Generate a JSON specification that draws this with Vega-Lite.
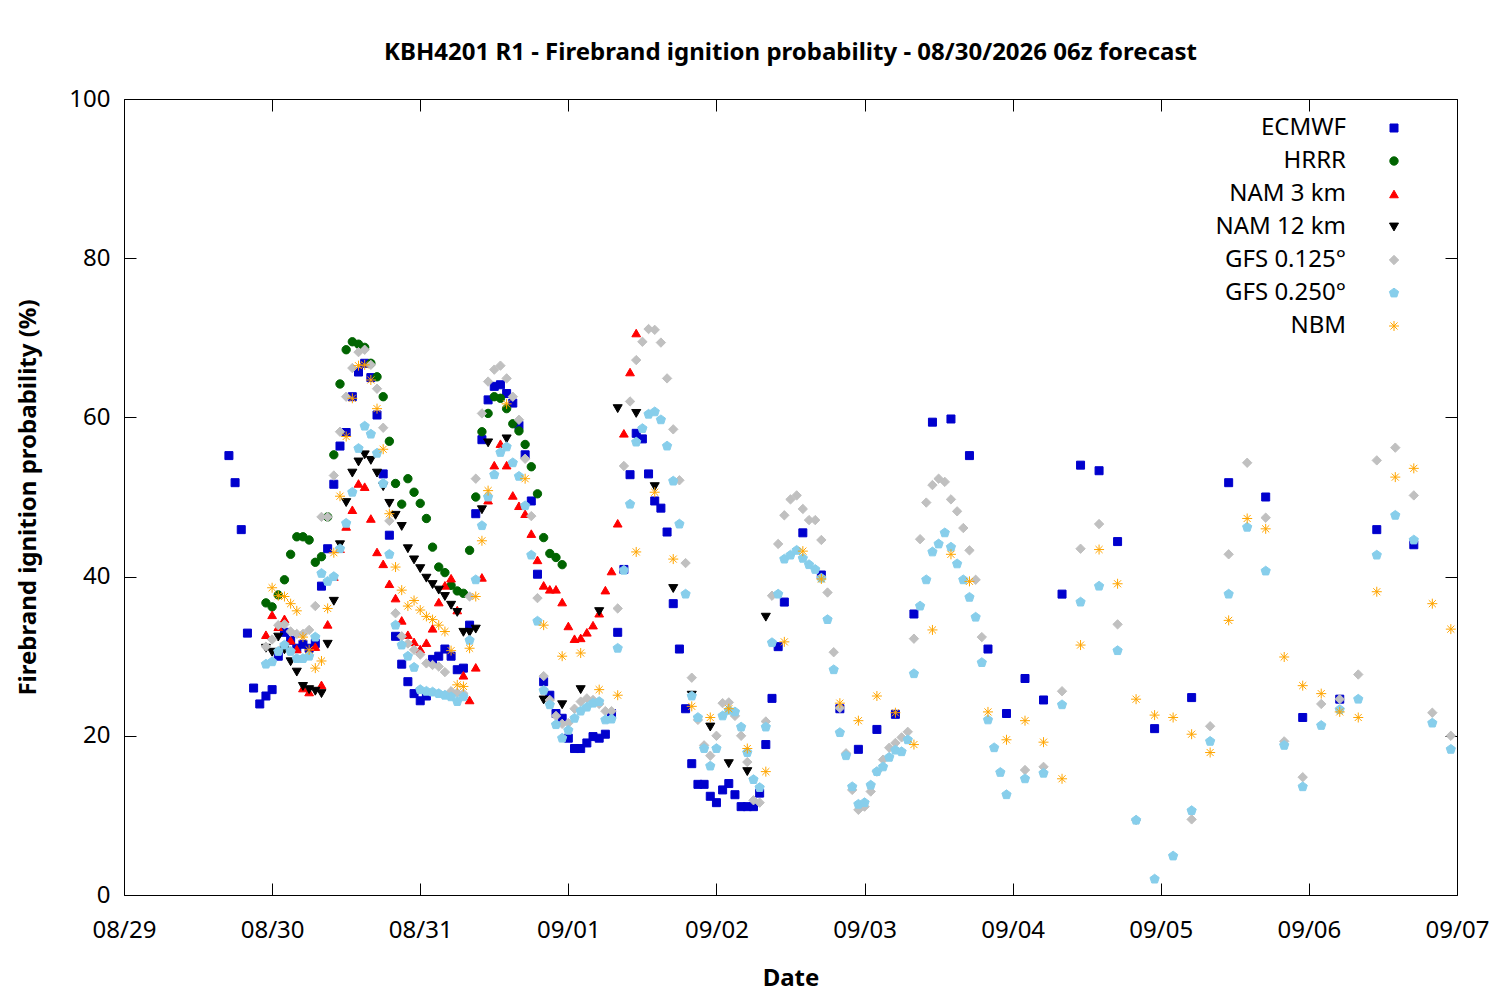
{
"$schema": "https://vega.github.io/schema/vega-lite/v6.json",
"width": 1333, "height": 796,
"autosize": {"type": "none"},
"padding": {"left": 124, "top": 99, "right": 43, "bottom": 105},
"title": {"text": "KBH4201 R1 - Firebrand ignition probability - 08/30/2026 06z forecast", "fontSize": 24, "fontWeight": "bold", "font": "Noto Sans", "anchor": "middle", "baseline": "alphabetic", "offset": 3, "color": "black"},
"data": {"values": [
{"model":"ECMWF","time":"2026-08-29T17:00Z","prob":55.2},
{"model":"ECMWF","time":"2026-08-29T18:00Z","prob":51.8},
{"model":"ECMWF","time":"2026-08-29T19:00Z","prob":45.9},
{"model":"ECMWF","time":"2026-08-29T20:00Z","prob":32.9},
{"model":"ECMWF","time":"2026-08-29T21:00Z","prob":26.0},
{"model":"ECMWF","time":"2026-08-29T22:00Z","prob":24.0},
{"model":"ECMWF","time":"2026-08-29T23:00Z","prob":25.0},
{"model":"ECMWF","time":"2026-08-30T00:00Z","prob":25.8},
{"model":"ECMWF","time":"2026-08-30T01:00Z","prob":30.0},
{"model":"ECMWF","time":"2026-08-30T02:00Z","prob":33.0},
{"model":"ECMWF","time":"2026-08-30T03:00Z","prob":32.0},
{"model":"ECMWF","time":"2026-08-30T04:00Z","prob":31.0},
{"model":"ECMWF","time":"2026-08-30T05:00Z","prob":31.5},
{"model":"ECMWF","time":"2026-08-30T06:00Z","prob":31.0},
{"model":"ECMWF","time":"2026-08-30T07:00Z","prob":31.6},
{"model":"ECMWF","time":"2026-08-30T08:00Z","prob":38.8},
{"model":"ECMWF","time":"2026-08-30T09:00Z","prob":43.5},
{"model":"ECMWF","time":"2026-08-30T10:00Z","prob":51.6},
{"model":"ECMWF","time":"2026-08-30T11:00Z","prob":56.4},
{"model":"ECMWF","time":"2026-08-30T12:00Z","prob":58.1},
{"model":"ECMWF","time":"2026-08-30T13:00Z","prob":62.6},
{"model":"ECMWF","time":"2026-08-30T14:00Z","prob":65.7},
{"model":"ECMWF","time":"2026-08-30T15:00Z","prob":66.8},
{"model":"ECMWF","time":"2026-08-30T16:00Z","prob":65.0},
{"model":"ECMWF","time":"2026-08-30T17:00Z","prob":60.3},
{"model":"ECMWF","time":"2026-08-30T18:00Z","prob":52.9},
{"model":"ECMWF","time":"2026-08-30T19:00Z","prob":45.2},
{"model":"ECMWF","time":"2026-08-30T20:00Z","prob":32.5},
{"model":"ECMWF","time":"2026-08-30T21:00Z","prob":29.0},
{"model":"ECMWF","time":"2026-08-30T22:00Z","prob":26.8},
{"model":"ECMWF","time":"2026-08-30T23:00Z","prob":25.3},
{"model":"ECMWF","time":"2026-08-31T00:00Z","prob":24.4},
{"model":"ECMWF","time":"2026-08-31T01:00Z","prob":25.0},
{"model":"ECMWF","time":"2026-08-31T02:00Z","prob":29.6},
{"model":"ECMWF","time":"2026-08-31T03:00Z","prob":30.0},
{"model":"ECMWF","time":"2026-08-31T04:00Z","prob":30.9},
{"model":"ECMWF","time":"2026-08-31T05:00Z","prob":30.0},
{"model":"ECMWF","time":"2026-08-31T06:00Z","prob":28.3},
{"model":"ECMWF","time":"2026-08-31T07:00Z","prob":28.5},
{"model":"ECMWF","time":"2026-08-31T08:00Z","prob":33.9},
{"model":"ECMWF","time":"2026-08-31T09:00Z","prob":47.9},
{"model":"ECMWF","time":"2026-08-31T10:00Z","prob":57.2},
{"model":"ECMWF","time":"2026-08-31T11:00Z","prob":62.2},
{"model":"ECMWF","time":"2026-08-31T12:00Z","prob":63.9},
{"model":"ECMWF","time":"2026-08-31T13:00Z","prob":64.1},
{"model":"ECMWF","time":"2026-08-31T14:00Z","prob":63.0},
{"model":"ECMWF","time":"2026-08-31T15:00Z","prob":61.8},
{"model":"ECMWF","time":"2026-08-31T16:00Z","prob":59.0},
{"model":"ECMWF","time":"2026-08-31T17:00Z","prob":55.3},
{"model":"ECMWF","time":"2026-08-31T18:00Z","prob":49.5},
{"model":"ECMWF","time":"2026-08-31T19:00Z","prob":40.3},
{"model":"ECMWF","time":"2026-08-31T20:00Z","prob":26.8},
{"model":"ECMWF","time":"2026-08-31T21:00Z","prob":25.1},
{"model":"ECMWF","time":"2026-08-31T22:00Z","prob":22.8},
{"model":"ECMWF","time":"2026-08-31T23:00Z","prob":22.2},
{"model":"ECMWF","time":"2026-09-01T00:00Z","prob":19.7},
{"model":"ECMWF","time":"2026-09-01T01:00Z","prob":18.4},
{"model":"ECMWF","time":"2026-09-01T02:00Z","prob":18.4},
{"model":"ECMWF","time":"2026-09-01T03:00Z","prob":19.1},
{"model":"ECMWF","time":"2026-09-01T04:00Z","prob":19.9},
{"model":"ECMWF","time":"2026-09-01T05:00Z","prob":19.7},
{"model":"ECMWF","time":"2026-09-01T06:00Z","prob":20.2},
{"model":"ECMWF","time":"2026-09-01T07:00Z","prob":22.8},
{"model":"ECMWF","time":"2026-09-01T08:00Z","prob":33.0},
{"model":"ECMWF","time":"2026-09-01T09:00Z","prob":40.9},
{"model":"ECMWF","time":"2026-09-01T10:00Z","prob":52.8},
{"model":"ECMWF","time":"2026-09-01T11:00Z","prob":58.0},
{"model":"ECMWF","time":"2026-09-01T12:00Z","prob":57.3},
{"model":"ECMWF","time":"2026-09-01T13:00Z","prob":52.9},
{"model":"ECMWF","time":"2026-09-01T14:00Z","prob":49.5},
{"model":"ECMWF","time":"2026-09-01T15:00Z","prob":48.6},
{"model":"ECMWF","time":"2026-09-01T16:00Z","prob":45.6},
{"model":"ECMWF","time":"2026-09-01T17:00Z","prob":36.6},
{"model":"ECMWF","time":"2026-09-01T18:00Z","prob":30.9},
{"model":"ECMWF","time":"2026-09-01T19:00Z","prob":23.4},
{"model":"ECMWF","time":"2026-09-01T20:00Z","prob":16.5},
{"model":"ECMWF","time":"2026-09-01T21:00Z","prob":13.9},
{"model":"ECMWF","time":"2026-09-01T22:00Z","prob":13.9},
{"model":"ECMWF","time":"2026-09-01T23:00Z","prob":12.4},
{"model":"ECMWF","time":"2026-09-02T00:00Z","prob":11.6},
{"model":"ECMWF","time":"2026-09-02T01:00Z","prob":13.2},
{"model":"ECMWF","time":"2026-09-02T02:00Z","prob":14.0},
{"model":"ECMWF","time":"2026-09-02T03:00Z","prob":12.6},
{"model":"ECMWF","time":"2026-09-02T04:00Z","prob":11.1},
{"model":"ECMWF","time":"2026-09-02T05:00Z","prob":11.1},
{"model":"ECMWF","time":"2026-09-02T06:00Z","prob":11.1},
{"model":"ECMWF","time":"2026-09-02T07:00Z","prob":12.8},
{"model":"ECMWF","time":"2026-09-02T08:00Z","prob":18.9},
{"model":"ECMWF","time":"2026-09-02T09:00Z","prob":24.7},
{"model":"ECMWF","time":"2026-09-02T10:00Z","prob":31.2},
{"model":"ECMWF","time":"2026-09-02T11:00Z","prob":36.8},
{"model":"ECMWF","time":"2026-09-02T14:00Z","prob":45.5},
{"model":"ECMWF","time":"2026-09-02T17:00Z","prob":40.2},
{"model":"ECMWF","time":"2026-09-02T20:00Z","prob":23.4},
{"model":"ECMWF","time":"2026-09-02T23:00Z","prob":18.3},
{"model":"ECMWF","time":"2026-09-03T02:00Z","prob":20.8},
{"model":"ECMWF","time":"2026-09-03T05:00Z","prob":22.7},
{"model":"ECMWF","time":"2026-09-03T08:00Z","prob":35.3},
{"model":"ECMWF","time":"2026-09-03T11:00Z","prob":59.4},
{"model":"ECMWF","time":"2026-09-03T14:00Z","prob":59.8},
{"model":"ECMWF","time":"2026-09-03T17:00Z","prob":55.2},
{"model":"ECMWF","time":"2026-09-03T20:00Z","prob":30.9},
{"model":"ECMWF","time":"2026-09-03T23:00Z","prob":22.8},
{"model":"ECMWF","time":"2026-09-04T02:00Z","prob":27.2},
{"model":"ECMWF","time":"2026-09-04T05:00Z","prob":24.5},
{"model":"ECMWF","time":"2026-09-04T08:00Z","prob":37.8},
{"model":"ECMWF","time":"2026-09-04T11:00Z","prob":54.0},
{"model":"ECMWF","time":"2026-09-04T14:00Z","prob":53.3},
{"model":"ECMWF","time":"2026-09-04T17:00Z","prob":44.4},
{"model":"ECMWF","time":"2026-09-04T23:00Z","prob":20.9},
{"model":"ECMWF","time":"2026-09-05T05:00Z","prob":24.8},
{"model":"ECMWF","time":"2026-09-05T11:00Z","prob":51.8},
{"model":"ECMWF","time":"2026-09-05T17:00Z","prob":50.0},
{"model":"ECMWF","time":"2026-09-05T23:00Z","prob":22.3},
{"model":"ECMWF","time":"2026-09-06T05:00Z","prob":24.6},
{"model":"ECMWF","time":"2026-09-06T11:00Z","prob":45.9},
{"model":"ECMWF","time":"2026-09-06T17:00Z","prob":44.0},
{"model":"HRRR","time":"2026-08-29T23:00Z","prob":36.7},
{"model":"HRRR","time":"2026-08-30T00:00Z","prob":36.2},
{"model":"HRRR","time":"2026-08-30T01:00Z","prob":37.7},
{"model":"HRRR","time":"2026-08-30T02:00Z","prob":39.6},
{"model":"HRRR","time":"2026-08-30T03:00Z","prob":42.8},
{"model":"HRRR","time":"2026-08-30T04:00Z","prob":45.0},
{"model":"HRRR","time":"2026-08-30T05:00Z","prob":45.0},
{"model":"HRRR","time":"2026-08-30T06:00Z","prob":44.6},
{"model":"HRRR","time":"2026-08-30T07:00Z","prob":41.8},
{"model":"HRRR","time":"2026-08-30T08:00Z","prob":42.5},
{"model":"HRRR","time":"2026-08-30T09:00Z","prob":47.5},
{"model":"HRRR","time":"2026-08-30T10:00Z","prob":55.3},
{"model":"HRRR","time":"2026-08-30T11:00Z","prob":64.2},
{"model":"HRRR","time":"2026-08-30T12:00Z","prob":68.5},
{"model":"HRRR","time":"2026-08-30T13:00Z","prob":69.5},
{"model":"HRRR","time":"2026-08-30T14:00Z","prob":69.2},
{"model":"HRRR","time":"2026-08-30T15:00Z","prob":68.8},
{"model":"HRRR","time":"2026-08-30T16:00Z","prob":66.8},
{"model":"HRRR","time":"2026-08-30T17:00Z","prob":65.1},
{"model":"HRRR","time":"2026-08-30T18:00Z","prob":62.6},
{"model":"HRRR","time":"2026-08-30T19:00Z","prob":57.0},
{"model":"HRRR","time":"2026-08-30T20:00Z","prob":51.7},
{"model":"HRRR","time":"2026-08-30T21:00Z","prob":49.1},
{"model":"HRRR","time":"2026-08-30T22:00Z","prob":52.3},
{"model":"HRRR","time":"2026-08-30T23:00Z","prob":50.6},
{"model":"HRRR","time":"2026-08-31T00:00Z","prob":49.2},
{"model":"HRRR","time":"2026-08-31T01:00Z","prob":47.3},
{"model":"HRRR","time":"2026-08-31T02:00Z","prob":43.7},
{"model":"HRRR","time":"2026-08-31T03:00Z","prob":41.2},
{"model":"HRRR","time":"2026-08-31T04:00Z","prob":40.5},
{"model":"HRRR","time":"2026-08-31T05:00Z","prob":38.9},
{"model":"HRRR","time":"2026-08-31T06:00Z","prob":38.2},
{"model":"HRRR","time":"2026-08-31T07:00Z","prob":37.9},
{"model":"HRRR","time":"2026-08-31T08:00Z","prob":43.3},
{"model":"HRRR","time":"2026-08-31T09:00Z","prob":50.0},
{"model":"HRRR","time":"2026-08-31T10:00Z","prob":58.2},
{"model":"HRRR","time":"2026-08-31T11:00Z","prob":60.5},
{"model":"HRRR","time":"2026-08-31T12:00Z","prob":62.6},
{"model":"HRRR","time":"2026-08-31T13:00Z","prob":62.4},
{"model":"HRRR","time":"2026-08-31T14:00Z","prob":61.1},
{"model":"HRRR","time":"2026-08-31T15:00Z","prob":59.2},
{"model":"HRRR","time":"2026-08-31T16:00Z","prob":58.3},
{"model":"HRRR","time":"2026-08-31T17:00Z","prob":56.6},
{"model":"HRRR","time":"2026-08-31T18:00Z","prob":53.8},
{"model":"HRRR","time":"2026-08-31T19:00Z","prob":50.4},
{"model":"HRRR","time":"2026-08-31T20:00Z","prob":44.9},
{"model":"HRRR","time":"2026-08-31T21:00Z","prob":42.9},
{"model":"HRRR","time":"2026-08-31T22:00Z","prob":42.4},
{"model":"HRRR","time":"2026-08-31T23:00Z","prob":41.5},
{"model":"NAM 3 km","time":"2026-08-29T23:00Z","prob":32.7},
{"model":"NAM 3 km","time":"2026-08-30T00:00Z","prob":35.2},
{"model":"NAM 3 km","time":"2026-08-30T01:00Z","prob":33.7},
{"model":"NAM 3 km","time":"2026-08-30T02:00Z","prob":34.7},
{"model":"NAM 3 km","time":"2026-08-30T03:00Z","prob":32.0},
{"model":"NAM 3 km","time":"2026-08-30T04:00Z","prob":30.9},
{"model":"NAM 3 km","time":"2026-08-30T05:00Z","prob":26.0},
{"model":"NAM 3 km","time":"2026-08-30T06:00Z","prob":25.5},
{"model":"NAM 3 km","time":"2026-08-30T07:00Z","prob":31.2},
{"model":"NAM 3 km","time":"2026-08-30T08:00Z","prob":26.4},
{"model":"NAM 3 km","time":"2026-08-30T09:00Z","prob":34.0},
{"model":"NAM 3 km","time":"2026-08-30T10:00Z","prob":40.0},
{"model":"NAM 3 km","time":"2026-08-30T11:00Z","prob":43.5},
{"model":"NAM 3 km","time":"2026-08-30T12:00Z","prob":46.3},
{"model":"NAM 3 km","time":"2026-08-30T13:00Z","prob":48.4},
{"model":"NAM 3 km","time":"2026-08-30T14:00Z","prob":51.7},
{"model":"NAM 3 km","time":"2026-08-30T15:00Z","prob":51.3},
{"model":"NAM 3 km","time":"2026-08-30T16:00Z","prob":47.3},
{"model":"NAM 3 km","time":"2026-08-30T17:00Z","prob":43.1},
{"model":"NAM 3 km","time":"2026-08-30T18:00Z","prob":41.6},
{"model":"NAM 3 km","time":"2026-08-30T19:00Z","prob":39.1},
{"model":"NAM 3 km","time":"2026-08-30T20:00Z","prob":37.3},
{"model":"NAM 3 km","time":"2026-08-30T21:00Z","prob":34.5},
{"model":"NAM 3 km","time":"2026-08-30T22:00Z","prob":32.7},
{"model":"NAM 3 km","time":"2026-08-30T23:00Z","prob":31.8},
{"model":"NAM 3 km","time":"2026-08-31T00:00Z","prob":30.9},
{"model":"NAM 3 km","time":"2026-08-31T01:00Z","prob":31.7},
{"model":"NAM 3 km","time":"2026-08-31T02:00Z","prob":33.5},
{"model":"NAM 3 km","time":"2026-08-31T03:00Z","prob":36.8},
{"model":"NAM 3 km","time":"2026-08-31T04:00Z","prob":38.9},
{"model":"NAM 3 km","time":"2026-08-31T05:00Z","prob":39.8},
{"model":"NAM 3 km","time":"2026-08-31T06:00Z","prob":35.8},
{"model":"NAM 3 km","time":"2026-08-31T07:00Z","prob":27.6},
{"model":"NAM 3 km","time":"2026-08-31T08:00Z","prob":24.5},
{"model":"NAM 3 km","time":"2026-08-31T09:00Z","prob":28.6},
{"model":"NAM 3 km","time":"2026-08-31T10:00Z","prob":39.9},
{"model":"NAM 3 km","time":"2026-08-31T11:00Z","prob":49.6},
{"model":"NAM 3 km","time":"2026-08-31T12:00Z","prob":54.0},
{"model":"NAM 3 km","time":"2026-08-31T13:00Z","prob":56.7},
{"model":"NAM 3 km","time":"2026-08-31T14:00Z","prob":54.0},
{"model":"NAM 3 km","time":"2026-08-31T15:00Z","prob":50.2},
{"model":"NAM 3 km","time":"2026-08-31T16:00Z","prob":48.9},
{"model":"NAM 3 km","time":"2026-08-31T17:00Z","prob":47.9},
{"model":"NAM 3 km","time":"2026-08-31T18:00Z","prob":45.4},
{"model":"NAM 3 km","time":"2026-08-31T19:00Z","prob":42.1},
{"model":"NAM 3 km","time":"2026-08-31T20:00Z","prob":38.9},
{"model":"NAM 3 km","time":"2026-08-31T21:00Z","prob":38.4},
{"model":"NAM 3 km","time":"2026-08-31T22:00Z","prob":38.4},
{"model":"NAM 3 km","time":"2026-08-31T23:00Z","prob":36.8},
{"model":"NAM 3 km","time":"2026-09-01T00:00Z","prob":33.8},
{"model":"NAM 3 km","time":"2026-09-01T01:00Z","prob":32.2},
{"model":"NAM 3 km","time":"2026-09-01T02:00Z","prob":32.3},
{"model":"NAM 3 km","time":"2026-09-01T03:00Z","prob":33.0},
{"model":"NAM 3 km","time":"2026-09-01T04:00Z","prob":33.9},
{"model":"NAM 3 km","time":"2026-09-01T05:00Z","prob":35.4},
{"model":"NAM 3 km","time":"2026-09-01T06:00Z","prob":38.3},
{"model":"NAM 3 km","time":"2026-09-01T07:00Z","prob":40.7},
{"model":"NAM 3 km","time":"2026-09-01T08:00Z","prob":46.7},
{"model":"NAM 3 km","time":"2026-09-01T09:00Z","prob":58.0},
{"model":"NAM 3 km","time":"2026-09-01T10:00Z","prob":65.7},
{"model":"NAM 3 km","time":"2026-09-01T11:00Z","prob":70.6},
{"model":"NAM 12 km","time":"2026-08-29T23:00Z","prob":31.0},
{"model":"NAM 12 km","time":"2026-08-30T00:00Z","prob":30.5},
{"model":"NAM 12 km","time":"2026-08-30T01:00Z","prob":32.4},
{"model":"NAM 12 km","time":"2026-08-30T02:00Z","prob":30.8},
{"model":"NAM 12 km","time":"2026-08-30T03:00Z","prob":29.3},
{"model":"NAM 12 km","time":"2026-08-30T04:00Z","prob":28.0},
{"model":"NAM 12 km","time":"2026-08-30T05:00Z","prob":26.2},
{"model":"NAM 12 km","time":"2026-08-30T06:00Z","prob":25.8},
{"model":"NAM 12 km","time":"2026-08-30T07:00Z","prob":25.6},
{"model":"NAM 12 km","time":"2026-08-30T08:00Z","prob":25.3},
{"model":"NAM 12 km","time":"2026-08-30T09:00Z","prob":31.5},
{"model":"NAM 12 km","time":"2026-08-30T10:00Z","prob":36.9},
{"model":"NAM 12 km","time":"2026-08-30T11:00Z","prob":44.0},
{"model":"NAM 12 km","time":"2026-08-30T12:00Z","prob":49.3},
{"model":"NAM 12 km","time":"2026-08-30T13:00Z","prob":53.0},
{"model":"NAM 12 km","time":"2026-08-30T14:00Z","prob":54.4},
{"model":"NAM 12 km","time":"2026-08-30T15:00Z","prob":55.3},
{"model":"NAM 12 km","time":"2026-08-30T16:00Z","prob":54.6},
{"model":"NAM 12 km","time":"2026-08-30T17:00Z","prob":53.0},
{"model":"NAM 12 km","time":"2026-08-30T18:00Z","prob":51.3},
{"model":"NAM 12 km","time":"2026-08-30T19:00Z","prob":49.2},
{"model":"NAM 12 km","time":"2026-08-30T20:00Z","prob":47.7},
{"model":"NAM 12 km","time":"2026-08-30T21:00Z","prob":46.3},
{"model":"NAM 12 km","time":"2026-08-30T22:00Z","prob":43.5},
{"model":"NAM 12 km","time":"2026-08-30T23:00Z","prob":42.1},
{"model":"NAM 12 km","time":"2026-08-31T00:00Z","prob":41.0},
{"model":"NAM 12 km","time":"2026-08-31T01:00Z","prob":39.8},
{"model":"NAM 12 km","time":"2026-08-31T02:00Z","prob":39.0},
{"model":"NAM 12 km","time":"2026-08-31T03:00Z","prob":38.3},
{"model":"NAM 12 km","time":"2026-08-31T04:00Z","prob":37.5},
{"model":"NAM 12 km","time":"2026-08-31T05:00Z","prob":36.4},
{"model":"NAM 12 km","time":"2026-08-31T06:00Z","prob":35.5},
{"model":"NAM 12 km","time":"2026-08-31T07:00Z","prob":33.0},
{"model":"NAM 12 km","time":"2026-08-31T08:00Z","prob":33.0},
{"model":"NAM 12 km","time":"2026-08-31T09:00Z","prob":33.4},
{"model":"NAM 12 km","time":"2026-08-31T10:00Z","prob":48.4},
{"model":"NAM 12 km","time":"2026-08-31T11:00Z","prob":56.8},
{"model":"NAM 12 km","time":"2026-08-31T14:00Z","prob":57.3},
{"model":"NAM 12 km","time":"2026-08-31T20:00Z","prob":24.5},
{"model":"NAM 12 km","time":"2026-08-31T23:00Z","prob":23.9},
{"model":"NAM 12 km","time":"2026-09-01T02:00Z","prob":25.8},
{"model":"NAM 12 km","time":"2026-09-01T05:00Z","prob":35.6},
{"model":"NAM 12 km","time":"2026-09-01T08:00Z","prob":61.1},
{"model":"NAM 12 km","time":"2026-09-01T11:00Z","prob":60.5},
{"model":"NAM 12 km","time":"2026-09-01T14:00Z","prob":51.3},
{"model":"NAM 12 km","time":"2026-09-01T17:00Z","prob":38.5},
{"model":"NAM 12 km","time":"2026-09-01T20:00Z","prob":25.1},
{"model":"NAM 12 km","time":"2026-09-01T23:00Z","prob":21.1},
{"model":"NAM 12 km","time":"2026-09-02T02:00Z","prob":16.5},
{"model":"NAM 12 km","time":"2026-09-02T05:00Z","prob":15.5},
{"model":"NAM 12 km","time":"2026-09-02T08:00Z","prob":34.9},
{"model":"GFS 0.125°","time":"2026-08-29T23:00Z","prob":31.2},
{"model":"GFS 0.125°","time":"2026-08-30T00:00Z","prob":32.1},
{"model":"GFS 0.125°","time":"2026-08-30T01:00Z","prob":33.9},
{"model":"GFS 0.125°","time":"2026-08-30T02:00Z","prob":34.0},
{"model":"GFS 0.125°","time":"2026-08-30T03:00Z","prob":33.1},
{"model":"GFS 0.125°","time":"2026-08-30T04:00Z","prob":32.8},
{"model":"GFS 0.125°","time":"2026-08-30T05:00Z","prob":32.8},
{"model":"GFS 0.125°","time":"2026-08-30T06:00Z","prob":33.3},
{"model":"GFS 0.125°","time":"2026-08-30T07:00Z","prob":36.3},
{"model":"GFS 0.125°","time":"2026-08-30T08:00Z","prob":47.5},
{"model":"GFS 0.125°","time":"2026-08-30T09:00Z","prob":47.5},
{"model":"GFS 0.125°","time":"2026-08-30T10:00Z","prob":52.7},
{"model":"GFS 0.125°","time":"2026-08-30T11:00Z","prob":58.2},
{"model":"GFS 0.125°","time":"2026-08-30T12:00Z","prob":62.6},
{"model":"GFS 0.125°","time":"2026-08-30T13:00Z","prob":66.2},
{"model":"GFS 0.125°","time":"2026-08-30T14:00Z","prob":68.2},
{"model":"GFS 0.125°","time":"2026-08-30T15:00Z","prob":68.5},
{"model":"GFS 0.125°","time":"2026-08-30T16:00Z","prob":66.6},
{"model":"GFS 0.125°","time":"2026-08-30T17:00Z","prob":63.6},
{"model":"GFS 0.125°","time":"2026-08-30T18:00Z","prob":58.7},
{"model":"GFS 0.125°","time":"2026-08-30T19:00Z","prob":47.0},
{"model":"GFS 0.125°","time":"2026-08-30T20:00Z","prob":35.4},
{"model":"GFS 0.125°","time":"2026-08-30T21:00Z","prob":32.5},
{"model":"GFS 0.125°","time":"2026-08-30T22:00Z","prob":31.6},
{"model":"GFS 0.125°","time":"2026-08-30T23:00Z","prob":30.8},
{"model":"GFS 0.125°","time":"2026-08-31T00:00Z","prob":30.2},
{"model":"GFS 0.125°","time":"2026-08-31T01:00Z","prob":29.1},
{"model":"GFS 0.125°","time":"2026-08-31T02:00Z","prob":28.9},
{"model":"GFS 0.125°","time":"2026-08-31T03:00Z","prob":28.7},
{"model":"GFS 0.125°","time":"2026-08-31T04:00Z","prob":28.0},
{"model":"GFS 0.125°","time":"2026-08-31T05:00Z","prob":25.6},
{"model":"GFS 0.125°","time":"2026-08-31T06:00Z","prob":25.4},
{"model":"GFS 0.125°","time":"2026-08-31T07:00Z","prob":25.3},
{"model":"GFS 0.125°","time":"2026-08-31T08:00Z","prob":37.5},
{"model":"GFS 0.125°","time":"2026-08-31T09:00Z","prob":52.3},
{"model":"GFS 0.125°","time":"2026-08-31T10:00Z","prob":60.5},
{"model":"GFS 0.125°","time":"2026-08-31T11:00Z","prob":64.5},
{"model":"GFS 0.125°","time":"2026-08-31T12:00Z","prob":66.0},
{"model":"GFS 0.125°","time":"2026-08-31T13:00Z","prob":66.5},
{"model":"GFS 0.125°","time":"2026-08-31T14:00Z","prob":64.9},
{"model":"GFS 0.125°","time":"2026-08-31T15:00Z","prob":62.6},
{"model":"GFS 0.125°","time":"2026-08-31T16:00Z","prob":59.7},
{"model":"GFS 0.125°","time":"2026-08-31T17:00Z","prob":54.8},
{"model":"GFS 0.125°","time":"2026-08-31T18:00Z","prob":47.6},
{"model":"GFS 0.125°","time":"2026-08-31T19:00Z","prob":37.3},
{"model":"GFS 0.125°","time":"2026-08-31T20:00Z","prob":27.5},
{"model":"GFS 0.125°","time":"2026-08-31T21:00Z","prob":24.5},
{"model":"GFS 0.125°","time":"2026-08-31T22:00Z","prob":22.5},
{"model":"GFS 0.125°","time":"2026-08-31T23:00Z","prob":21.5},
{"model":"GFS 0.125°","time":"2026-09-01T00:00Z","prob":21.6},
{"model":"GFS 0.125°","time":"2026-09-01T01:00Z","prob":23.4},
{"model":"GFS 0.125°","time":"2026-09-01T02:00Z","prob":24.3},
{"model":"GFS 0.125°","time":"2026-09-01T03:00Z","prob":24.7},
{"model":"GFS 0.125°","time":"2026-09-01T04:00Z","prob":24.5},
{"model":"GFS 0.125°","time":"2026-09-01T05:00Z","prob":24.0},
{"model":"GFS 0.125°","time":"2026-09-01T06:00Z","prob":23.1},
{"model":"GFS 0.125°","time":"2026-09-01T07:00Z","prob":23.1},
{"model":"GFS 0.125°","time":"2026-09-01T08:00Z","prob":36.0},
{"model":"GFS 0.125°","time":"2026-09-01T09:00Z","prob":53.9},
{"model":"GFS 0.125°","time":"2026-09-01T10:00Z","prob":62.0},
{"model":"GFS 0.125°","time":"2026-09-01T11:00Z","prob":67.2},
{"model":"GFS 0.125°","time":"2026-09-01T12:00Z","prob":69.5},
{"model":"GFS 0.125°","time":"2026-09-01T13:00Z","prob":71.1},
{"model":"GFS 0.125°","time":"2026-09-01T14:00Z","prob":71.0},
{"model":"GFS 0.125°","time":"2026-09-01T15:00Z","prob":69.4},
{"model":"GFS 0.125°","time":"2026-09-01T16:00Z","prob":64.9},
{"model":"GFS 0.125°","time":"2026-09-01T17:00Z","prob":58.5},
{"model":"GFS 0.125°","time":"2026-09-01T18:00Z","prob":52.1},
{"model":"GFS 0.125°","time":"2026-09-01T19:00Z","prob":41.7},
{"model":"GFS 0.125°","time":"2026-09-01T20:00Z","prob":27.3},
{"model":"GFS 0.125°","time":"2026-09-01T21:00Z","prob":22.0},
{"model":"GFS 0.125°","time":"2026-09-01T22:00Z","prob":18.8},
{"model":"GFS 0.125°","time":"2026-09-01T23:00Z","prob":17.5},
{"model":"GFS 0.125°","time":"2026-09-02T00:00Z","prob":20.0},
{"model":"GFS 0.125°","time":"2026-09-02T01:00Z","prob":24.1},
{"model":"GFS 0.125°","time":"2026-09-02T02:00Z","prob":24.2},
{"model":"GFS 0.125°","time":"2026-09-02T03:00Z","prob":22.5},
{"model":"GFS 0.125°","time":"2026-09-02T04:00Z","prob":20.0},
{"model":"GFS 0.125°","time":"2026-09-02T05:00Z","prob":16.7},
{"model":"GFS 0.125°","time":"2026-09-02T06:00Z","prob":11.9},
{"model":"GFS 0.125°","time":"2026-09-02T07:00Z","prob":11.6},
{"model":"GFS 0.125°","time":"2026-09-02T08:00Z","prob":21.8},
{"model":"GFS 0.125°","time":"2026-09-02T09:00Z","prob":37.6},
{"model":"GFS 0.125°","time":"2026-09-02T10:00Z","prob":44.1},
{"model":"GFS 0.125°","time":"2026-09-02T11:00Z","prob":47.7},
{"model":"GFS 0.125°","time":"2026-09-02T12:00Z","prob":49.7},
{"model":"GFS 0.125°","time":"2026-09-02T13:00Z","prob":50.2},
{"model":"GFS 0.125°","time":"2026-09-02T14:00Z","prob":48.5},
{"model":"GFS 0.125°","time":"2026-09-02T15:00Z","prob":47.1},
{"model":"GFS 0.125°","time":"2026-09-02T16:00Z","prob":47.1},
{"model":"GFS 0.125°","time":"2026-09-02T17:00Z","prob":44.6},
{"model":"GFS 0.125°","time":"2026-09-02T18:00Z","prob":38.0},
{"model":"GFS 0.125°","time":"2026-09-02T19:00Z","prob":30.5},
{"model":"GFS 0.125°","time":"2026-09-02T20:00Z","prob":23.5},
{"model":"GFS 0.125°","time":"2026-09-02T21:00Z","prob":17.8},
{"model":"GFS 0.125°","time":"2026-09-02T22:00Z","prob":13.2},
{"model":"GFS 0.125°","time":"2026-09-02T23:00Z","prob":10.7},
{"model":"GFS 0.125°","time":"2026-09-03T00:00Z","prob":11.1},
{"model":"GFS 0.125°","time":"2026-09-03T01:00Z","prob":13.0},
{"model":"GFS 0.125°","time":"2026-09-03T02:00Z","prob":15.5},
{"model":"GFS 0.125°","time":"2026-09-03T03:00Z","prob":17.0},
{"model":"GFS 0.125°","time":"2026-09-03T04:00Z","prob":18.5},
{"model":"GFS 0.125°","time":"2026-09-03T05:00Z","prob":19.1},
{"model":"GFS 0.125°","time":"2026-09-03T06:00Z","prob":19.8},
{"model":"GFS 0.125°","time":"2026-09-03T07:00Z","prob":20.5},
{"model":"GFS 0.125°","time":"2026-09-03T08:00Z","prob":32.2},
{"model":"GFS 0.125°","time":"2026-09-03T09:00Z","prob":44.7},
{"model":"GFS 0.125°","time":"2026-09-03T10:00Z","prob":49.3},
{"model":"GFS 0.125°","time":"2026-09-03T11:00Z","prob":51.5},
{"model":"GFS 0.125°","time":"2026-09-03T12:00Z","prob":52.3},
{"model":"GFS 0.125°","time":"2026-09-03T13:00Z","prob":51.9},
{"model":"GFS 0.125°","time":"2026-09-03T14:00Z","prob":49.7},
{"model":"GFS 0.125°","time":"2026-09-03T15:00Z","prob":48.2},
{"model":"GFS 0.125°","time":"2026-09-03T16:00Z","prob":46.1},
{"model":"GFS 0.125°","time":"2026-09-03T17:00Z","prob":43.3},
{"model":"GFS 0.125°","time":"2026-09-03T18:00Z","prob":39.6},
{"model":"GFS 0.125°","time":"2026-09-03T19:00Z","prob":32.4},
{"model":"GFS 0.125°","time":"2026-09-04T02:00Z","prob":15.7},
{"model":"GFS 0.125°","time":"2026-09-04T05:00Z","prob":16.1},
{"model":"GFS 0.125°","time":"2026-09-04T08:00Z","prob":25.6},
{"model":"GFS 0.125°","time":"2026-09-04T11:00Z","prob":43.5},
{"model":"GFS 0.125°","time":"2026-09-04T14:00Z","prob":46.6},
{"model":"GFS 0.125°","time":"2026-09-04T17:00Z","prob":34.0},
{"model":"GFS 0.125°","time":"2026-09-04T20:00Z","prob":9.4},
{"model":"GFS 0.125°","time":"2026-09-05T05:00Z","prob":9.5},
{"model":"GFS 0.125°","time":"2026-09-05T08:00Z","prob":21.2},
{"model":"GFS 0.125°","time":"2026-09-05T11:00Z","prob":42.8},
{"model":"GFS 0.125°","time":"2026-09-05T14:00Z","prob":54.3},
{"model":"GFS 0.125°","time":"2026-09-05T17:00Z","prob":47.4},
{"model":"GFS 0.125°","time":"2026-09-05T20:00Z","prob":19.3},
{"model":"GFS 0.125°","time":"2026-09-05T23:00Z","prob":14.8},
{"model":"GFS 0.125°","time":"2026-09-06T02:00Z","prob":24.0},
{"model":"GFS 0.125°","time":"2026-09-06T05:00Z","prob":24.6},
{"model":"GFS 0.125°","time":"2026-09-06T08:00Z","prob":27.7},
{"model":"GFS 0.125°","time":"2026-09-06T11:00Z","prob":54.6},
{"model":"GFS 0.125°","time":"2026-09-06T14:00Z","prob":56.2},
{"model":"GFS 0.125°","time":"2026-09-06T17:00Z","prob":50.2},
{"model":"GFS 0.125°","time":"2026-09-06T20:00Z","prob":22.9},
{"model":"GFS 0.125°","time":"2026-09-06T23:00Z","prob":20.0},
{"model":"GFS 0.250°","time":"2026-08-29T23:00Z","prob":29.0},
{"model":"GFS 0.250°","time":"2026-08-30T00:00Z","prob":29.3},
{"model":"GFS 0.250°","time":"2026-08-30T01:00Z","prob":30.6},
{"model":"GFS 0.250°","time":"2026-08-30T02:00Z","prob":31.4},
{"model":"GFS 0.250°","time":"2026-08-30T03:00Z","prob":30.6},
{"model":"GFS 0.250°","time":"2026-08-30T04:00Z","prob":29.7},
{"model":"GFS 0.250°","time":"2026-08-30T05:00Z","prob":29.7},
{"model":"GFS 0.250°","time":"2026-08-30T06:00Z","prob":30.0},
{"model":"GFS 0.250°","time":"2026-08-30T07:00Z","prob":32.4},
{"model":"GFS 0.250°","time":"2026-08-30T08:00Z","prob":40.4},
{"model":"GFS 0.250°","time":"2026-08-30T09:00Z","prob":39.4},
{"model":"GFS 0.250°","time":"2026-08-30T10:00Z","prob":40.0},
{"model":"GFS 0.250°","time":"2026-08-30T11:00Z","prob":43.5},
{"model":"GFS 0.250°","time":"2026-08-30T12:00Z","prob":46.7},
{"model":"GFS 0.250°","time":"2026-08-30T13:00Z","prob":50.6},
{"model":"GFS 0.250°","time":"2026-08-30T14:00Z","prob":56.1},
{"model":"GFS 0.250°","time":"2026-08-30T15:00Z","prob":58.9},
{"model":"GFS 0.250°","time":"2026-08-30T16:00Z","prob":57.9},
{"model":"GFS 0.250°","time":"2026-08-30T17:00Z","prob":55.5},
{"model":"GFS 0.250°","time":"2026-08-30T18:00Z","prob":51.7},
{"model":"GFS 0.250°","time":"2026-08-30T19:00Z","prob":42.8},
{"model":"GFS 0.250°","time":"2026-08-30T20:00Z","prob":33.9},
{"model":"GFS 0.250°","time":"2026-08-30T21:00Z","prob":31.4},
{"model":"GFS 0.250°","time":"2026-08-30T22:00Z","prob":30.0},
{"model":"GFS 0.250°","time":"2026-08-30T23:00Z","prob":28.6},
{"model":"GFS 0.250°","time":"2026-08-31T00:00Z","prob":25.8},
{"model":"GFS 0.250°","time":"2026-08-31T01:00Z","prob":25.6},
{"model":"GFS 0.250°","time":"2026-08-31T02:00Z","prob":25.5},
{"model":"GFS 0.250°","time":"2026-08-31T03:00Z","prob":25.3},
{"model":"GFS 0.250°","time":"2026-08-31T04:00Z","prob":25.1},
{"model":"GFS 0.250°","time":"2026-08-31T05:00Z","prob":24.9},
{"model":"GFS 0.250°","time":"2026-08-31T06:00Z","prob":24.3},
{"model":"GFS 0.250°","time":"2026-08-31T07:00Z","prob":24.9},
{"model":"GFS 0.250°","time":"2026-08-31T08:00Z","prob":32.0},
{"model":"GFS 0.250°","time":"2026-08-31T09:00Z","prob":39.6},
{"model":"GFS 0.250°","time":"2026-08-31T10:00Z","prob":46.4},
{"model":"GFS 0.250°","time":"2026-08-31T11:00Z","prob":50.0},
{"model":"GFS 0.250°","time":"2026-08-31T12:00Z","prob":52.8},
{"model":"GFS 0.250°","time":"2026-08-31T13:00Z","prob":55.6},
{"model":"GFS 0.250°","time":"2026-08-31T14:00Z","prob":56.3},
{"model":"GFS 0.250°","time":"2026-08-31T15:00Z","prob":54.3},
{"model":"GFS 0.250°","time":"2026-08-31T16:00Z","prob":52.6},
{"model":"GFS 0.250°","time":"2026-08-31T17:00Z","prob":48.9},
{"model":"GFS 0.250°","time":"2026-08-31T18:00Z","prob":42.7},
{"model":"GFS 0.250°","time":"2026-08-31T19:00Z","prob":34.4},
{"model":"GFS 0.250°","time":"2026-08-31T20:00Z","prob":25.7},
{"model":"GFS 0.250°","time":"2026-08-31T21:00Z","prob":23.9},
{"model":"GFS 0.250°","time":"2026-08-31T22:00Z","prob":21.4},
{"model":"GFS 0.250°","time":"2026-08-31T23:00Z","prob":19.7},
{"model":"GFS 0.250°","time":"2026-09-01T00:00Z","prob":20.7},
{"model":"GFS 0.250°","time":"2026-09-01T01:00Z","prob":22.2},
{"model":"GFS 0.250°","time":"2026-09-01T02:00Z","prob":23.1},
{"model":"GFS 0.250°","time":"2026-09-01T03:00Z","prob":23.6},
{"model":"GFS 0.250°","time":"2026-09-01T04:00Z","prob":24.1},
{"model":"GFS 0.250°","time":"2026-09-01T05:00Z","prob":24.3},
{"model":"GFS 0.250°","time":"2026-09-01T06:00Z","prob":22.0},
{"model":"GFS 0.250°","time":"2026-09-01T07:00Z","prob":22.1},
{"model":"GFS 0.250°","time":"2026-09-01T08:00Z","prob":31.0},
{"model":"GFS 0.250°","time":"2026-09-01T09:00Z","prob":40.8},
{"model":"GFS 0.250°","time":"2026-09-01T10:00Z","prob":49.1},
{"model":"GFS 0.250°","time":"2026-09-01T11:00Z","prob":56.9},
{"model":"GFS 0.250°","time":"2026-09-01T12:00Z","prob":58.6},
{"model":"GFS 0.250°","time":"2026-09-01T13:00Z","prob":60.4},
{"model":"GFS 0.250°","time":"2026-09-01T14:00Z","prob":60.7},
{"model":"GFS 0.250°","time":"2026-09-01T15:00Z","prob":59.7},
{"model":"GFS 0.250°","time":"2026-09-01T16:00Z","prob":56.4},
{"model":"GFS 0.250°","time":"2026-09-01T17:00Z","prob":52.0},
{"model":"GFS 0.250°","time":"2026-09-01T18:00Z","prob":46.6},
{"model":"GFS 0.250°","time":"2026-09-01T19:00Z","prob":37.8},
{"model":"GFS 0.250°","time":"2026-09-01T20:00Z","prob":25.0},
{"model":"GFS 0.250°","time":"2026-09-01T21:00Z","prob":22.3},
{"model":"GFS 0.250°","time":"2026-09-01T22:00Z","prob":18.4},
{"model":"GFS 0.250°","time":"2026-09-01T23:00Z","prob":16.2},
{"model":"GFS 0.250°","time":"2026-09-02T00:00Z","prob":18.4},
{"model":"GFS 0.250°","time":"2026-09-02T01:00Z","prob":22.5},
{"model":"GFS 0.250°","time":"2026-09-02T02:00Z","prob":23.2},
{"model":"GFS 0.250°","time":"2026-09-02T03:00Z","prob":23.0},
{"model":"GFS 0.250°","time":"2026-09-02T04:00Z","prob":21.1},
{"model":"GFS 0.250°","time":"2026-09-02T05:00Z","prob":17.9},
{"model":"GFS 0.250°","time":"2026-09-02T06:00Z","prob":14.5},
{"model":"GFS 0.250°","time":"2026-09-02T07:00Z","prob":13.5},
{"model":"GFS 0.250°","time":"2026-09-02T08:00Z","prob":21.1},
{"model":"GFS 0.250°","time":"2026-09-02T09:00Z","prob":31.7},
{"model":"GFS 0.250°","time":"2026-09-02T10:00Z","prob":37.8},
{"model":"GFS 0.250°","time":"2026-09-02T11:00Z","prob":42.2},
{"model":"GFS 0.250°","time":"2026-09-02T12:00Z","prob":42.7},
{"model":"GFS 0.250°","time":"2026-09-02T13:00Z","prob":43.3},
{"model":"GFS 0.250°","time":"2026-09-02T14:00Z","prob":42.3},
{"model":"GFS 0.250°","time":"2026-09-02T15:00Z","prob":41.5},
{"model":"GFS 0.250°","time":"2026-09-02T16:00Z","prob":40.9},
{"model":"GFS 0.250°","time":"2026-09-02T17:00Z","prob":39.8},
{"model":"GFS 0.250°","time":"2026-09-02T18:00Z","prob":34.6},
{"model":"GFS 0.250°","time":"2026-09-02T19:00Z","prob":28.3},
{"model":"GFS 0.250°","time":"2026-09-02T20:00Z","prob":20.4},
{"model":"GFS 0.250°","time":"2026-09-02T21:00Z","prob":17.5},
{"model":"GFS 0.250°","time":"2026-09-02T22:00Z","prob":13.6},
{"model":"GFS 0.250°","time":"2026-09-02T23:00Z","prob":11.4},
{"model":"GFS 0.250°","time":"2026-09-03T00:00Z","prob":11.6},
{"model":"GFS 0.250°","time":"2026-09-03T01:00Z","prob":13.8},
{"model":"GFS 0.250°","time":"2026-09-03T02:00Z","prob":15.5},
{"model":"GFS 0.250°","time":"2026-09-03T03:00Z","prob":16.1},
{"model":"GFS 0.250°","time":"2026-09-03T04:00Z","prob":17.3},
{"model":"GFS 0.250°","time":"2026-09-03T05:00Z","prob":18.2},
{"model":"GFS 0.250°","time":"2026-09-03T06:00Z","prob":18.0},
{"model":"GFS 0.250°","time":"2026-09-03T07:00Z","prob":19.5},
{"model":"GFS 0.250°","time":"2026-09-03T08:00Z","prob":27.8},
{"model":"GFS 0.250°","time":"2026-09-03T09:00Z","prob":36.3},
{"model":"GFS 0.250°","time":"2026-09-03T10:00Z","prob":39.6},
{"model":"GFS 0.250°","time":"2026-09-03T11:00Z","prob":43.1},
{"model":"GFS 0.250°","time":"2026-09-03T12:00Z","prob":44.1},
{"model":"GFS 0.250°","time":"2026-09-03T13:00Z","prob":45.5},
{"model":"GFS 0.250°","time":"2026-09-03T14:00Z","prob":43.7},
{"model":"GFS 0.250°","time":"2026-09-03T15:00Z","prob":41.6},
{"model":"GFS 0.250°","time":"2026-09-03T16:00Z","prob":39.6},
{"model":"GFS 0.250°","time":"2026-09-03T17:00Z","prob":37.4},
{"model":"GFS 0.250°","time":"2026-09-03T18:00Z","prob":34.9},
{"model":"GFS 0.250°","time":"2026-09-03T19:00Z","prob":29.2},
{"model":"GFS 0.250°","time":"2026-09-03T20:00Z","prob":22.0},
{"model":"GFS 0.250°","time":"2026-09-03T21:00Z","prob":18.5},
{"model":"GFS 0.250°","time":"2026-09-03T22:00Z","prob":15.4},
{"model":"GFS 0.250°","time":"2026-09-03T23:00Z","prob":12.6},
{"model":"GFS 0.250°","time":"2026-09-04T02:00Z","prob":14.6},
{"model":"GFS 0.250°","time":"2026-09-04T05:00Z","prob":15.3},
{"model":"GFS 0.250°","time":"2026-09-04T08:00Z","prob":23.9},
{"model":"GFS 0.250°","time":"2026-09-04T11:00Z","prob":36.8},
{"model":"GFS 0.250°","time":"2026-09-04T14:00Z","prob":38.8},
{"model":"GFS 0.250°","time":"2026-09-04T17:00Z","prob":30.7},
{"model":"GFS 0.250°","time":"2026-09-04T20:00Z","prob":9.4},
{"model":"GFS 0.250°","time":"2026-09-04T23:00Z","prob":2.0},
{"model":"GFS 0.250°","time":"2026-09-05T02:00Z","prob":4.9},
{"model":"GFS 0.250°","time":"2026-09-05T05:00Z","prob":10.6},
{"model":"GFS 0.250°","time":"2026-09-05T08:00Z","prob":19.3},
{"model":"GFS 0.250°","time":"2026-09-05T11:00Z","prob":37.8},
{"model":"GFS 0.250°","time":"2026-09-05T14:00Z","prob":46.2},
{"model":"GFS 0.250°","time":"2026-09-05T17:00Z","prob":40.7},
{"model":"GFS 0.250°","time":"2026-09-05T20:00Z","prob":18.8},
{"model":"GFS 0.250°","time":"2026-09-05T23:00Z","prob":13.6},
{"model":"GFS 0.250°","time":"2026-09-06T02:00Z","prob":21.3},
{"model":"GFS 0.250°","time":"2026-09-06T05:00Z","prob":23.3},
{"model":"GFS 0.250°","time":"2026-09-06T08:00Z","prob":24.6},
{"model":"GFS 0.250°","time":"2026-09-06T11:00Z","prob":42.7},
{"model":"GFS 0.250°","time":"2026-09-06T14:00Z","prob":47.7},
{"model":"GFS 0.250°","time":"2026-09-06T17:00Z","prob":44.6},
{"model":"GFS 0.250°","time":"2026-09-06T20:00Z","prob":21.6},
{"model":"GFS 0.250°","time":"2026-09-06T23:00Z","prob":18.3},
{"model":"NBM","time":"2026-08-30T00:00Z","prob":38.6},
{"model":"NBM","time":"2026-08-30T01:00Z","prob":37.6},
{"model":"NBM","time":"2026-08-30T02:00Z","prob":37.5},
{"model":"NBM","time":"2026-08-30T03:00Z","prob":36.6},
{"model":"NBM","time":"2026-08-30T04:00Z","prob":35.7},
{"model":"NBM","time":"2026-08-30T05:00Z","prob":32.4},
{"model":"NBM","time":"2026-08-30T06:00Z","prob":30.8},
{"model":"NBM","time":"2026-08-30T07:00Z","prob":28.5},
{"model":"NBM","time":"2026-08-30T08:00Z","prob":29.4},
{"model":"NBM","time":"2026-08-30T09:00Z","prob":36.0},
{"model":"NBM","time":"2026-08-30T10:00Z","prob":43.0},
{"model":"NBM","time":"2026-08-30T11:00Z","prob":50.1},
{"model":"NBM","time":"2026-08-30T12:00Z","prob":57.6},
{"model":"NBM","time":"2026-08-30T13:00Z","prob":62.4},
{"model":"NBM","time":"2026-08-30T14:00Z","prob":66.5},
{"model":"NBM","time":"2026-08-30T15:00Z","prob":66.6},
{"model":"NBM","time":"2026-08-30T16:00Z","prob":64.7},
{"model":"NBM","time":"2026-08-30T17:00Z","prob":61.1},
{"model":"NBM","time":"2026-08-30T18:00Z","prob":56.0},
{"model":"NBM","time":"2026-08-30T19:00Z","prob":47.9},
{"model":"NBM","time":"2026-08-30T20:00Z","prob":41.2},
{"model":"NBM","time":"2026-08-30T21:00Z","prob":38.3},
{"model":"NBM","time":"2026-08-30T22:00Z","prob":36.3},
{"model":"NBM","time":"2026-08-30T23:00Z","prob":37.0},
{"model":"NBM","time":"2026-08-31T00:00Z","prob":35.8},
{"model":"NBM","time":"2026-08-31T01:00Z","prob":35.0},
{"model":"NBM","time":"2026-08-31T02:00Z","prob":34.6},
{"model":"NBM","time":"2026-08-31T03:00Z","prob":33.9},
{"model":"NBM","time":"2026-08-31T04:00Z","prob":33.1},
{"model":"NBM","time":"2026-08-31T05:00Z","prob":30.7},
{"model":"NBM","time":"2026-08-31T06:00Z","prob":26.4},
{"model":"NBM","time":"2026-08-31T07:00Z","prob":26.2},
{"model":"NBM","time":"2026-08-31T08:00Z","prob":31.0},
{"model":"NBM","time":"2026-08-31T09:00Z","prob":37.5},
{"model":"NBM","time":"2026-08-31T10:00Z","prob":44.5},
{"model":"NBM","time":"2026-08-31T11:00Z","prob":50.8},
{"model":"NBM","time":"2026-08-31T14:00Z","prob":61.7},
{"model":"NBM","time":"2026-08-31T17:00Z","prob":52.3},
{"model":"NBM","time":"2026-08-31T20:00Z","prob":33.9},
{"model":"NBM","time":"2026-08-31T23:00Z","prob":30.0},
{"model":"NBM","time":"2026-09-01T02:00Z","prob":30.4},
{"model":"NBM","time":"2026-09-01T05:00Z","prob":25.8},
{"model":"NBM","time":"2026-09-01T08:00Z","prob":25.1},
{"model":"NBM","time":"2026-09-01T11:00Z","prob":43.1},
{"model":"NBM","time":"2026-09-01T14:00Z","prob":50.6},
{"model":"NBM","time":"2026-09-01T17:00Z","prob":42.2},
{"model":"NBM","time":"2026-09-01T20:00Z","prob":23.7},
{"model":"NBM","time":"2026-09-01T23:00Z","prob":22.3},
{"model":"NBM","time":"2026-09-02T02:00Z","prob":23.4},
{"model":"NBM","time":"2026-09-02T05:00Z","prob":18.4},
{"model":"NBM","time":"2026-09-02T08:00Z","prob":15.5},
{"model":"NBM","time":"2026-09-02T11:00Z","prob":31.8},
{"model":"NBM","time":"2026-09-02T14:00Z","prob":43.2},
{"model":"NBM","time":"2026-09-02T17:00Z","prob":39.7},
{"model":"NBM","time":"2026-09-02T20:00Z","prob":24.1},
{"model":"NBM","time":"2026-09-02T23:00Z","prob":21.9},
{"model":"NBM","time":"2026-09-03T02:00Z","prob":25.0},
{"model":"NBM","time":"2026-09-03T05:00Z","prob":22.9},
{"model":"NBM","time":"2026-09-03T08:00Z","prob":18.9},
{"model":"NBM","time":"2026-09-03T11:00Z","prob":33.3},
{"model":"NBM","time":"2026-09-03T14:00Z","prob":42.8},
{"model":"NBM","time":"2026-09-03T17:00Z","prob":39.4},
{"model":"NBM","time":"2026-09-03T20:00Z","prob":23.0},
{"model":"NBM","time":"2026-09-03T23:00Z","prob":19.5},
{"model":"NBM","time":"2026-09-04T02:00Z","prob":21.9},
{"model":"NBM","time":"2026-09-04T05:00Z","prob":19.2},
{"model":"NBM","time":"2026-09-04T08:00Z","prob":14.6},
{"model":"NBM","time":"2026-09-04T11:00Z","prob":31.4},
{"model":"NBM","time":"2026-09-04T14:00Z","prob":43.4},
{"model":"NBM","time":"2026-09-04T17:00Z","prob":39.1},
{"model":"NBM","time":"2026-09-04T20:00Z","prob":24.6},
{"model":"NBM","time":"2026-09-04T23:00Z","prob":22.6},
{"model":"NBM","time":"2026-09-05T02:00Z","prob":22.3},
{"model":"NBM","time":"2026-09-05T05:00Z","prob":20.2},
{"model":"NBM","time":"2026-09-05T08:00Z","prob":17.9},
{"model":"NBM","time":"2026-09-05T11:00Z","prob":34.5},
{"model":"NBM","time":"2026-09-05T14:00Z","prob":47.3},
{"model":"NBM","time":"2026-09-05T17:00Z","prob":46.0},
{"model":"NBM","time":"2026-09-05T20:00Z","prob":29.9},
{"model":"NBM","time":"2026-09-05T23:00Z","prob":26.3},
{"model":"NBM","time":"2026-09-06T02:00Z","prob":25.3},
{"model":"NBM","time":"2026-09-06T05:00Z","prob":23.0},
{"model":"NBM","time":"2026-09-06T08:00Z","prob":22.3},
{"model":"NBM","time":"2026-09-06T11:00Z","prob":38.1},
{"model":"NBM","time":"2026-09-06T14:00Z","prob":52.5},
{"model":"NBM","time":"2026-09-06T17:00Z","prob":53.6},
{"model":"NBM","time":"2026-09-06T20:00Z","prob":36.6},
{"model":"NBM","time":"2026-09-06T23:00Z","prob":33.4}
]},
"layer": [
{
"mark": {"type": "point", "filled": true, "opacity": 1, "strokeWidth": 1},
"encoding": {
"x": {"field": "time", "type": "temporal", "title": "Date",
 "scale": {"type": "utc", "domain": [{"year":2026,"month":8,"date":29,"utc":true},{"year":2026,"month":9,"date":7,"utc":true}]},
 "axis": {"values": [{"year":2026,"month":8,"date":29,"utc":true},{"year":2026,"month":8,"date":30,"utc":true},{"year":2026,"month":8,"date":31,"utc":true},{"year":2026,"month":9,"date":1,"utc":true},{"year":2026,"month":9,"date":2,"utc":true},{"year":2026,"month":9,"date":3,"utc":true},{"year":2026,"month":9,"date":4,"utc":true},{"year":2026,"month":9,"date":5,"utc":true},{"year":2026,"month":9,"date":6,"utc":true},{"year":2026,"month":9,"date":7,"utc":true}],
  "format": "%m/%d", "labelFlush": false, "labelOverlap": false, "labelPadding": 35, "titlePadding": 24}},
"y": {"field": "prob", "type": "quantitative", "title": "Firebrand ignition probability (%)",
 "scale": {"domain": [0, 100]},
 "axis": {"values": [0, 20, 40, 60, 80, 100], "labelPadding": 26, "titlePadding": 28}},
"color": {"field": "model", "type": "nominal",
 "scale": {"domain": ["ECMWF","HRRR","NAM 3 km","NAM 12 km","GFS 0.125°","GFS 0.250°","NBM"], "range": ["#0000cd","#006400","#ff0000","#000000","#c0c0c0","#87ceeb","#ffa500"]},
 "legend": {"title": null, "orient": "none", "legendX": 1258, "legendY": 17, "labelFontSize": 24, "labelFont": "Noto Sans", "labelColor": "black", "labelAlign": "right", "labelOffset": -60, "rowPadding": 9, "symbolSize": 75, "symbolStrokeWidth": 1, "labelLimit": 400, "padding": 0}},
"stroke": {"field": "model", "type": "nominal",
 "scale": {"domain": ["ECMWF","HRRR","NAM 3 km","NAM 12 km","GFS 0.125°","GFS 0.250°","NBM"], "range": ["#0000cd","#006400","#ff0000","#000000","#c0c0c0","#87ceeb","#ffa500"]}},
"shape": {"field": "model", "type": "nominal",
 "scale": {"domain": ["ECMWF","HRRR","NAM 3 km","NAM 12 km","GFS 0.125°","GFS 0.250°","NBM"], "range": ["square","circle","triangle-up","triangle-down","diamond","M0,-1L0.951,-0.309L0.588,0.809L-0.588,0.809L-0.951,-0.309Z","M-1,0L1,0M0,-1L0,1M-0.707,-0.707L0.707,0.707M-0.707,0.707L0.707,-0.707"]}},
"size": {"field": "model", "type": "nominal", "legend": null,
 "scale": {"domain": ["ECMWF","HRRR","NAM 3 km","NAM 12 km","GFS 0.125°","GFS 0.250°","NBM"], "range": [64, 100, 110, 110, 90, 95, 110]}}
}
},
{
"transform": [{"filter": "false"}],
"mark": {"type": "point"},
"encoding": {
"x": {"field": "time", "type": "temporal",
 "scale": {"type": "utc", "domain": [{"year":2026,"month":8,"date":29,"utc":true},{"year":2026,"month":9,"date":7,"utc":true}]},
 "axis": {"orient": "top", "labels": false, "title": null, "values": [{"year":2026,"month":8,"date":29,"utc":true},{"year":2026,"month":8,"date":30,"utc":true},{"year":2026,"month":8,"date":31,"utc":true},{"year":2026,"month":9,"date":1,"utc":true},{"year":2026,"month":9,"date":2,"utc":true},{"year":2026,"month":9,"date":3,"utc":true},{"year":2026,"month":9,"date":4,"utc":true},{"year":2026,"month":9,"date":5,"utc":true},{"year":2026,"month":9,"date":6,"utc":true},{"year":2026,"month":9,"date":7,"utc":true}]}},
"y": {"field": "prob", "type": "quantitative",
 "scale": {"domain": [0, 100]},
 "axis": {"orient": "right", "labels": false, "title": null, "values": [0, 20, 40, 60, 80, 100]}}
}
}
],
"resolve": {"axis": {"x": "independent", "y": "independent"}},
"config": {
"font": "Noto Sans",
"view": {"stroke": "black", "strokeWidth": 1},
"axis": {"domain": false, "grid": false, "tickColor": "black", "tickSize": -12, "tickWidth": 1, "labelColor": "black", "labelFontSize": 24, "labelFont": "Noto Sans", "titleFont": "Noto Sans", "titleFontSize": 24, "titleFontWeight": "bold", "titleColor": "black"}
}
}
